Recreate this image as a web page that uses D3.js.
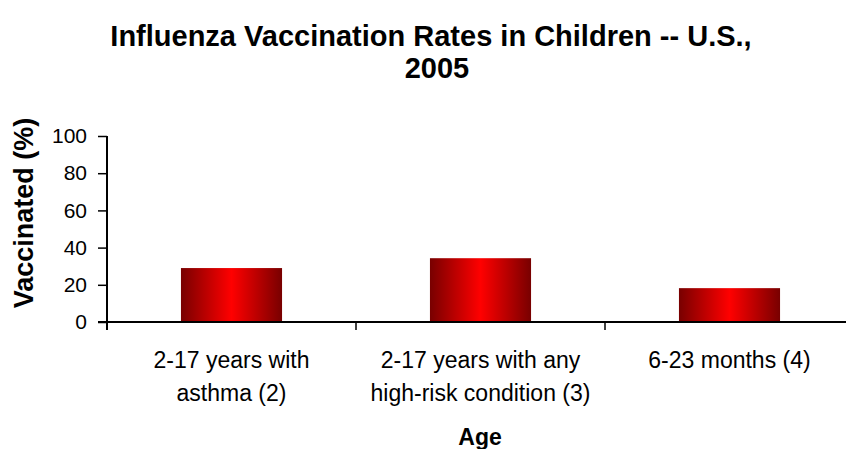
<!DOCTYPE html>
<html>
<head>
<meta charset="utf-8">
<script src="https://cdn.jsdelivr.net/npm/d3@7"></script>
<style>
  body { margin: 0; background: #fff; }
  svg { display: block; }
</style>
</head>
<body>
<svg width="846" height="449"></svg>
<script>
// data
const categories = [
    ['2-17 years with', 'asthma (2)'],
    ['2-17 years with any', 'high-risk condition (3)'],
    ['6-23 months (4)']
];
const rates = [29, 34.3, 18.2];
const yTicks = [0, 20, 40, 60, 80, 100];
const titleLines = ['Influenza Vaccination Rates in Children -- U.S.,', '2005'];

const svg = d3.select('svg');
const sans = '"Liberation Sans", Arial, sans-serif';
const plotLeft = 107, plotRight = 854, plotTop = 136, plotBottom = 322;

const defs = svg.append('defs');
const grad = defs.append('linearGradient')
    .attr('id', 'barGrad')
    .attr('x1', '0%').attr('x2', '100%').attr('y1', '0%').attr('y2', '0%');
grad.append('stop').attr('offset', '0%').attr('stop-color', '#780000');
grad.append('stop').attr('offset', '50%').attr('stop-color', '#ff0000');
grad.append('stop').attr('offset', '100%').attr('stop-color', '#780000');

const keys = categories.map((c, i) => 'c' + i);
const xScale = d3.scaleBand()
    .domain(keys)
    .range([plotLeft, plotRight])
    .paddingInner(0.594)
    .paddingOuter(0.297);
const yScale = d3.scaleLinear()
    .domain([0, 100])
    .range([plotBottom, plotTop]);

// title (second line sits a little right, like the wrapped original)
svg.append('text')
    .attr('y', 46)
    .attr('text-anchor', 'middle')
    .style('font-family', sans)
    .style('font-weight', 'bold')
    .style('font-size', '29px')
    .selectAll('tspan')
    .data(titleLines)
    .enter()
    .append('tspan')
    .attr('x', (d, i) => i === 0 ? 431 : 437)
    .attr('dy', (d, i) => i === 0 ? 0 : 32)
    .text(d => d);

// bars
svg.selectAll('rect.bar')
    .data(rates)
    .enter()
    .append('rect')
    .attr('class', 'bar')
    .attr('x', (d, i) => xScale(keys[i]))
    .attr('y', d => yScale(d))
    .attr('width', xScale.bandwidth())
    .attr('height', d => yScale(0) - yScale(d))
    .attr('fill', 'url(#barGrad)');

// y axis
const yAxis = svg.append('g')
    .attr('transform', `translate(${plotLeft},0)`)
    .call(d3.axisLeft(yScale).tickValues(yTicks).tickSize(9).tickPadding(11));
yAxis.select('.domain').attr('d', `M0,${plotTop}V${plotBottom + 8}`);
yAxis.selectAll('line').attr('stroke-width', 1.5);
yAxis.select('.domain').attr('stroke-width', 2);
yAxis.selectAll('text')
    .style('font-family', sans)
    .style('font-size', '21px')
    .attr('fill', '#000');

// x axis line and tick marks at band edges
svg.append('line')
    .attr('x1', plotLeft - 9).attr('x2', plotRight)
    .attr('y1', yScale(0)).attr('y2', yScale(0))
    .attr('stroke', '#000')
    .attr('stroke-width', 2);
svg.selectAll('line.xtick')
    .data(keys.slice(1))
    .enter()
    .append('line')
    .attr('class', 'xtick')
    .attr('x1', d => xScale(d) - xScale.step() * xScale.paddingOuter())
    .attr('x2', d => xScale(d) - xScale.step() * xScale.paddingOuter())
    .attr('y1', yScale(0)).attr('y2', yScale(0) + 8)
    .attr('stroke', '#000')
    .attr('stroke-width', 1.5);

// category labels
svg.selectAll('text.cat')
    .data(categories)
    .enter()
    .append('text')
    .attr('class', 'cat')
    .attr('text-anchor', 'middle')
    .attr('y', 368)
    .style('font-family', sans)
    .style('font-size', '23px')
    .each(function (lines, i) {
        const cx = xScale(keys[i]) + xScale.bandwidth() / 2;
        d3.select(this).selectAll('tspan')
            .data(lines)
            .enter()
            .append('tspan')
            .attr('x', cx)
            .attr('dy', (d, j) => j === 0 ? 0 : 33)
            .text(d => d);
    });

// axis titles
svg.append('text')
    .attr('x', 480)
    .attr('y', 445)
    .attr('text-anchor', 'middle')
    .style('font-family', sans)
    .style('font-weight', 'bold')
    .style('font-size', '23px')
    .text('Age');

svg.append('text')
    .attr('transform', 'translate(33,213) rotate(-90)')
    .attr('text-anchor', 'middle')
    .style('font-family', sans)
    .style('font-weight', 'bold')
    .style('font-size', '27px')
    .text('Vaccinated (%)');
</script>
</body>
</html>
